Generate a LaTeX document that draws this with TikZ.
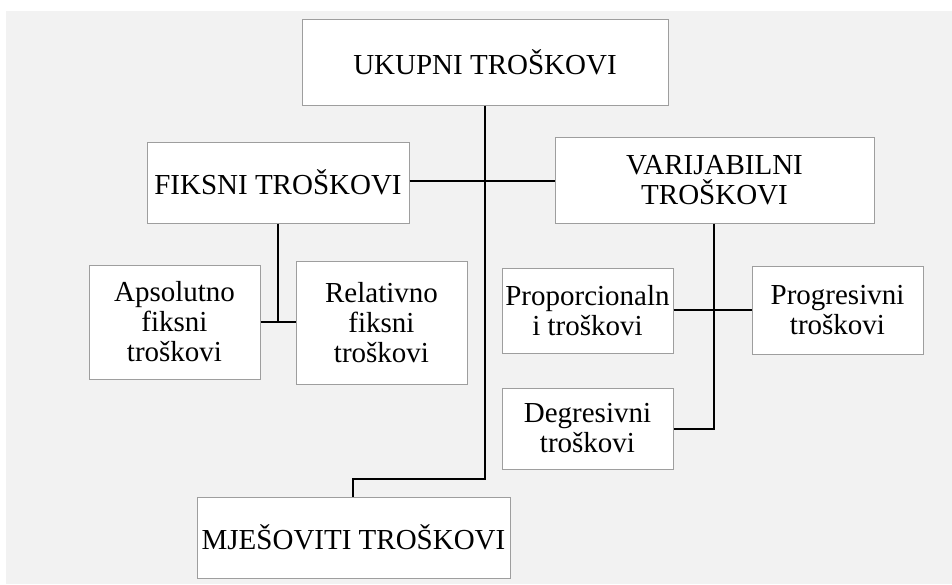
\documentclass[tikz,border=0pt]{standalone}
\usepackage{fontspec}
\setmainfont{Liberation Serif}
\begin{document}
\begin{tikzpicture}[x=1pt,y=-1pt,
  box/.style={draw=black!38, line width=1pt, fill=white, inner sep=0pt,
    align=center, font=\fontsize{29}{30}\selectfont},
  link/.style={line width=2pt, black}]
% canvas and light grey panel
\useasboundingbox (0,0) rectangle (952,584);
\fill[white] (0,0) rectangle (952,584);
\fill[black!5] (6,11) rectangle (952,584);

% boxes, positioned by their corners
\node[box, minimum width=366pt, minimum height=86pt] (uk) at (485,62) {UKUPNI TROŠKOVI};
\node[box, minimum width=262pt, minimum height=81pt] (fik) at (278,182.5) {FIKSNI TROŠKOVI};
\node[box, minimum width=319pt, minimum height=86pt] (var) at (714.5,180) {VARIJABILNI\\TROŠKOVI};
\node[box, minimum width=171pt, minimum height=114pt] (aps) at (174.5,322) {Apsolutno\\fiksni\\troškovi};
\node[box, minimum width=171pt, minimum height=123pt] (rel) at (381.5,322.5) {Relativno\\fiksni\\troškovi};
\node[box, minimum width=171pt, minimum height=85pt] (pro) at (587.5,310.5) {Proporcionaln\\i troškovi};
\node[box, minimum width=171pt, minimum height=88pt] (prg) at (837.5,310) {Progresivni\\troškovi};
\node[box, minimum width=171pt, minimum height=81pt] (deg) at (587.5,428.5) {Degresivni\\troškovi};
\node[box, minimum width=313pt, minimum height=81pt] (mje) at (353.5,537.5) {MJEŠOVITI TROŠKOVI};

% junction points
\coordinate (trunk) at (485,181);
\coordinate (bend1) at (485,479);
\coordinate (bend2) at (353,479);
\coordinate (fj) at (278,322);
\coordinate (vj) at (714,310);
\coordinate (vd) at (714,429);

% connectors
\draw[link] (uk.south) -- (bend1) -- (bend2) -- (bend2 |- mje.north);
\draw[link] (fik.east |- trunk) -- (var.west |- trunk);
\draw[link] (fik.south) -- (fj);
\draw[link] (aps.east |- fj) -- (rel.west |- fj);
\draw[link] (var.south -| vj) -- (vd) -- (deg.east |- vd);
\draw[link] (pro.east |- vj) -- (prg.west |- vj);
\end{tikzpicture}
\end{document}
